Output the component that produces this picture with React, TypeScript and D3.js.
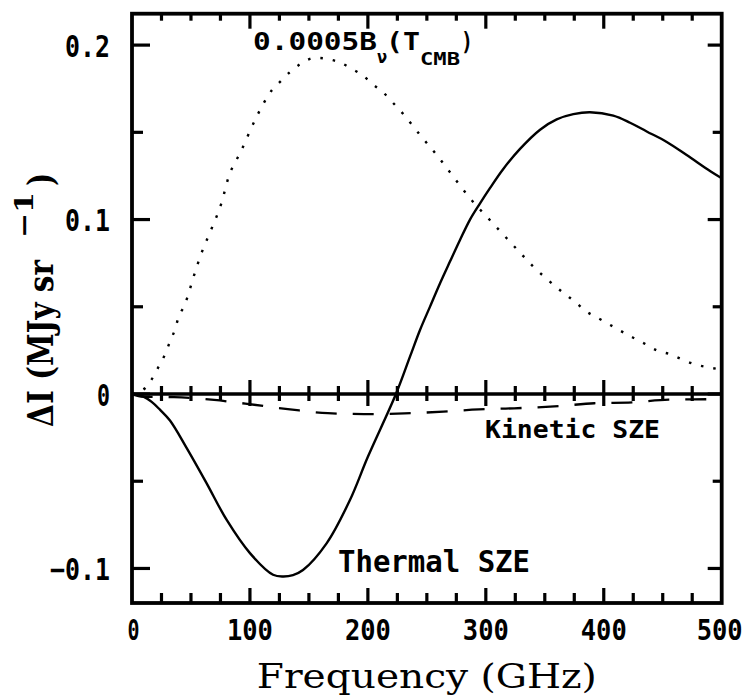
import React from "react";
import * as d3 from "d3";

// ---- Data ----
const thermalFreq = [0, 9.6, 16.7, 23.7, 32.2, 46.4, 63.3, 80.3, 100, 119.6, 128, 136.5, 145, 165, 184.8, 200, 223.8, 235.7, 244.2, 252.7, 261.2, 269.6, 278.1, 286.6, 295.1, 303.5, 314.8, 329, 346, 360.1, 374.2, 388.3, 408.1, 422.3, 436.4, 453.4, 470.3, 490.4, 500];
const thermalVal = [0, -0.0015, -0.0045, -0.0090, -0.0152, -0.0310, -0.0512, -0.0722, -0.0912, -0.1036, -0.1046, -0.1038, -0.1009, -0.0856, -0.0608, -0.036, 0, 0.0214, 0.0367, 0.0501, 0.0635, 0.0759, 0.0883, 0.1000, 0.1093, 0.1180, 0.1290, 0.1405, 0.1515, 0.1574, 0.1604, 0.1615, 0.1596, 0.1555, 0.1505, 0.1445, 0.1370, 0.1277, 0.1237];

const planckFreq = [0, 11, 16.7, 22.3, 28, 32.2, 36.5, 39.3, 44.9, 47.7, 52, 58.5, 67.6, 76.1, 81.7, 92.2, 105.7, 111.1, 118.7, 125.5, 134, 142.4, 155.2, 165.3, 176.4, 186.5, 195.9, 204.3, 212.8, 221.6, 230, 244.2, 258.4, 272.4, 286.6, 302.1, 317.7, 331.8, 340.3, 349.6, 366.6, 376.5, 384.7, 394.5, 404.4, 424.2, 435.6, 444.9, 456.2, 466.1, 477.4, 488.6, 500];
const planckVal = [0, 0.0033, 0.0084, 0.0153, 0.0228, 0.0300, 0.0371, 0.0437, 0.0514, 0.0570, 0.0667, 0.0800, 0.0950, 0.1100, 0.1240, 0.1389, 0.1590, 0.1660, 0.1743, 0.1789, 0.1846, 0.1890, 0.1927, 0.1921, 0.1900, 0.1864, 0.1825, 0.1775, 0.1730, 0.1667, 0.1605, 0.1485, 0.1370, 0.1246, 0.1122, 0.1007, 0.0893, 0.0790, 0.0730, 0.0672, 0.0575, 0.0524, 0.0475, 0.0438, 0.0400, 0.0325, 0.0285, 0.0250, 0.0228, 0.0199, 0.0170, 0.0153, 0.0140];

const kineticFreq = [0, 8, 35.6, 69.6, 96, 134, 166, 199, 231, 264, 294, 324, 362, 392, 424, 455, 487, 500];
const kineticVal = [0, -0.0015, -0.0018, -0.0034, -0.0055, -0.0088, -0.0110, -0.0115, -0.0111, -0.0101, -0.0088, -0.0082, -0.0069, -0.0053, -0.0048, -0.0032, -0.0030, -0.0025];

const xTickValues = [0, 100, 200, 300, 400, 500];
const xMinorStep = 25;
const yTickValues = [-0.1, 0, 0.1, 0.2];
const yMinorValues = [-0.05, 0.05, 0.15];
const xTickLabels = ["0", "100", "200", "300", "400", "500"];
const yTickLabels = ["\u22120.1", "0", "0.1", "0.2"];

const xTitle = "Frequency (GHz)";
const thermalLabel = "Thermal SZE";
const kineticLabel = "Kinetic SZE";

export default function App() {
  const W = 747;
  const H = 698;
  const left = 132;
  const right = 721.7;
  const top = 13.7;
  const bottom = 603;

  const x = d3.scaleLinear().domain([0, 500]).range([left, right]);
  const y = d3.scaleLinear().domain([-0.1198, 0.218]).range([bottom, top]);

  const mk = (fs: number[], vs: number[], curve: d3.CurveFactory) =>
    d3
      .line<number>()
      .x((_, i) => x(fs[i]))
      .y((v) => y(v))
      .curve(curve)(vs) || "";

  const thermalPath = mk(thermalFreq, thermalVal, d3.curveCatmullRom.alpha(0.5));
  const planckPath = mk(planckFreq, planckVal, d3.curveMonotoneX);
  const kineticPath = mk(kineticFreq, kineticVal, d3.curveMonotoneX);

  const xAll = d3.range(0, 500 + 1, xMinorStep);
  const isMajor = (f: number) => f % 100 === 0;
  const tickFont = "'DejaVu Sans Mono', monospace";
  const serif = "'DejaVu Serif', 'Liberation Serif', serif";
  const sw = 3.2;

  return (
    <svg
      width={W}
      height={H}
      viewBox={`0 0 ${W} ${H}`}
      style={{ position: "absolute", left: 0, top: 0, background: "#fff" }}
    >
      <rect x={0} y={0} width={W} height={H} fill="#fff" />
      <g stroke="#000" fill="none">
        {/* curves */}
        <path d={thermalPath} strokeWidth={2.4} />
        <path d={planckPath} strokeWidth={2.4} strokeDasharray="2.5 10" />
        <path d={kineticPath} strokeWidth={2.3} strokeDasharray="21 16" />

        {/* zero line with ticks */}
        <line x1={left} x2={right} y1={y(0)} y2={y(0)} strokeWidth={3.6} />
        {xAll.filter((f) => f > 0 && f < 500).map((f) => (
          <line
            key={"z" + f}
            x1={x(f)}
            x2={x(f)}
            y1={y(0) - (isMajor(f) ? 14 : 8)}
            y2={y(0) + (isMajor(f) ? 12 : 7)}
            strokeWidth={sw}
          />
        ))}

        {/* bottom & top ticks */}
        {xAll.filter((f) => f > 0 && f < 500).map((f) => (
          <g key={"bx" + f}>
            <line x1={x(f)} x2={x(f)} y1={bottom} y2={bottom - (isMajor(f) ? 15 : 10)} strokeWidth={sw} />
            <line x1={x(f)} x2={x(f)} y1={top} y2={top + (isMajor(f) ? 15 : 7)} strokeWidth={sw} />
          </g>
        ))}

        {/* left & right ticks */}
        {yTickValues.map((v) => (
          <g key={"ly" + v}>
            <line x1={left} x2={left + 18} y1={y(v)} y2={y(v)} strokeWidth={sw} />
            <line x1={right} x2={right - 14} y1={y(v)} y2={y(v)} strokeWidth={sw} />
          </g>
        ))}
        {yMinorValues.map((v) => (
          <g key={"lym" + v}>
            <line x1={left} x2={left + 11} y1={y(v)} y2={y(v)} strokeWidth={sw} />
            <line x1={right} x2={right - 9} y1={y(v)} y2={y(v)} strokeWidth={sw} />
          </g>
        ))}

        {/* frame */}
        <rect x={left} y={top} width={right - left} height={bottom - top} strokeWidth={3.8} />
      </g>

      {/* x tick labels */}
      <g fontFamily={tickFont} fontWeight="bold" fontSize={28} fill="#000" textAnchor="middle">
        {xTickValues.map((f, i) => (
          <text
            key={"xl" + f}
            x={f === 0 ? x(f) + 1.5 : f === 500 ? x(f) - 2 : x(f)}
            y={640}
            textLength={xTickLabels[i].length === 1 ? 12 : 46}
            lengthAdjust="spacingAndGlyphs"
          >
            {xTickLabels[i]}
          </text>
        ))}
      </g>

      {/* y tick labels */}
      <g fontFamily={tickFont} fontWeight="bold" fontSize={30} fill="#000" textAnchor="end">
        {yTickValues.map((v, i) => (
          <text
            key={"yl" + v}
            x={110}
            y={y(v) + 11.5}
            textLength={yTickLabels[i].length === 1 ? 13 : yTickLabels[i].length * 15}
            lengthAdjust="spacingAndGlyphs"
          >
            {yTickLabels[i]}
          </text>
        ))}
      </g>

      {/* x axis title */}
      <text
        x={(left + right) / 2}
        y={688}
        fontFamily={serif}
        fontSize={33}
        textAnchor="middle"
        textLength={340}
        lengthAdjust="spacingAndGlyphs"
        fill="#000"
      >
        {xTitle}
      </text>

      {/* y axis title, rotated */}
      <g transform="translate(53,427) rotate(-90)" fontFamily={serif} fontWeight="bold" fill="#000">
        <text x={0} y={0} fontSize={36} textLength={167} lengthAdjust="spacingAndGlyphs">
          ΔI (MJy sr
        </text>
        <text x={189} y={-20} fontSize={26} textLength={46} lengthAdjust="spacingAndGlyphs">
          −1
        </text>
        <text x={241} y={0} fontSize={36} textLength={13} lengthAdjust="spacingAndGlyphs">
          )
        </text>
      </g>

      {/* annotations */}
      <g fontFamily={tickFont} fontWeight="bold" fill="#000">
        <text x={253} y={50} fontSize={25} textLength={124} lengthAdjust="spacingAndGlyphs">0.0005B</text>
        <text x={377} y={63} fontSize={17}>ν</text>
        <text x={386} y={50} fontSize={25} textLength={34} lengthAdjust="spacingAndGlyphs">(T</text>
        <text x={420} y={65} fontSize={17} textLength={40} lengthAdjust="spacingAndGlyphs">CMB</text>
        <text x={461} y={50} fontSize={25} textLength={12} lengthAdjust="spacingAndGlyphs">)</text>
        <text x={338} y={572} fontSize={30} textLength={192} lengthAdjust="spacingAndGlyphs">{thermalLabel}</text>
        <text x={485} y={438} fontSize={25} textLength={175} lengthAdjust="spacingAndGlyphs">{kineticLabel}</text>
      </g>
    </svg>
  );
}
